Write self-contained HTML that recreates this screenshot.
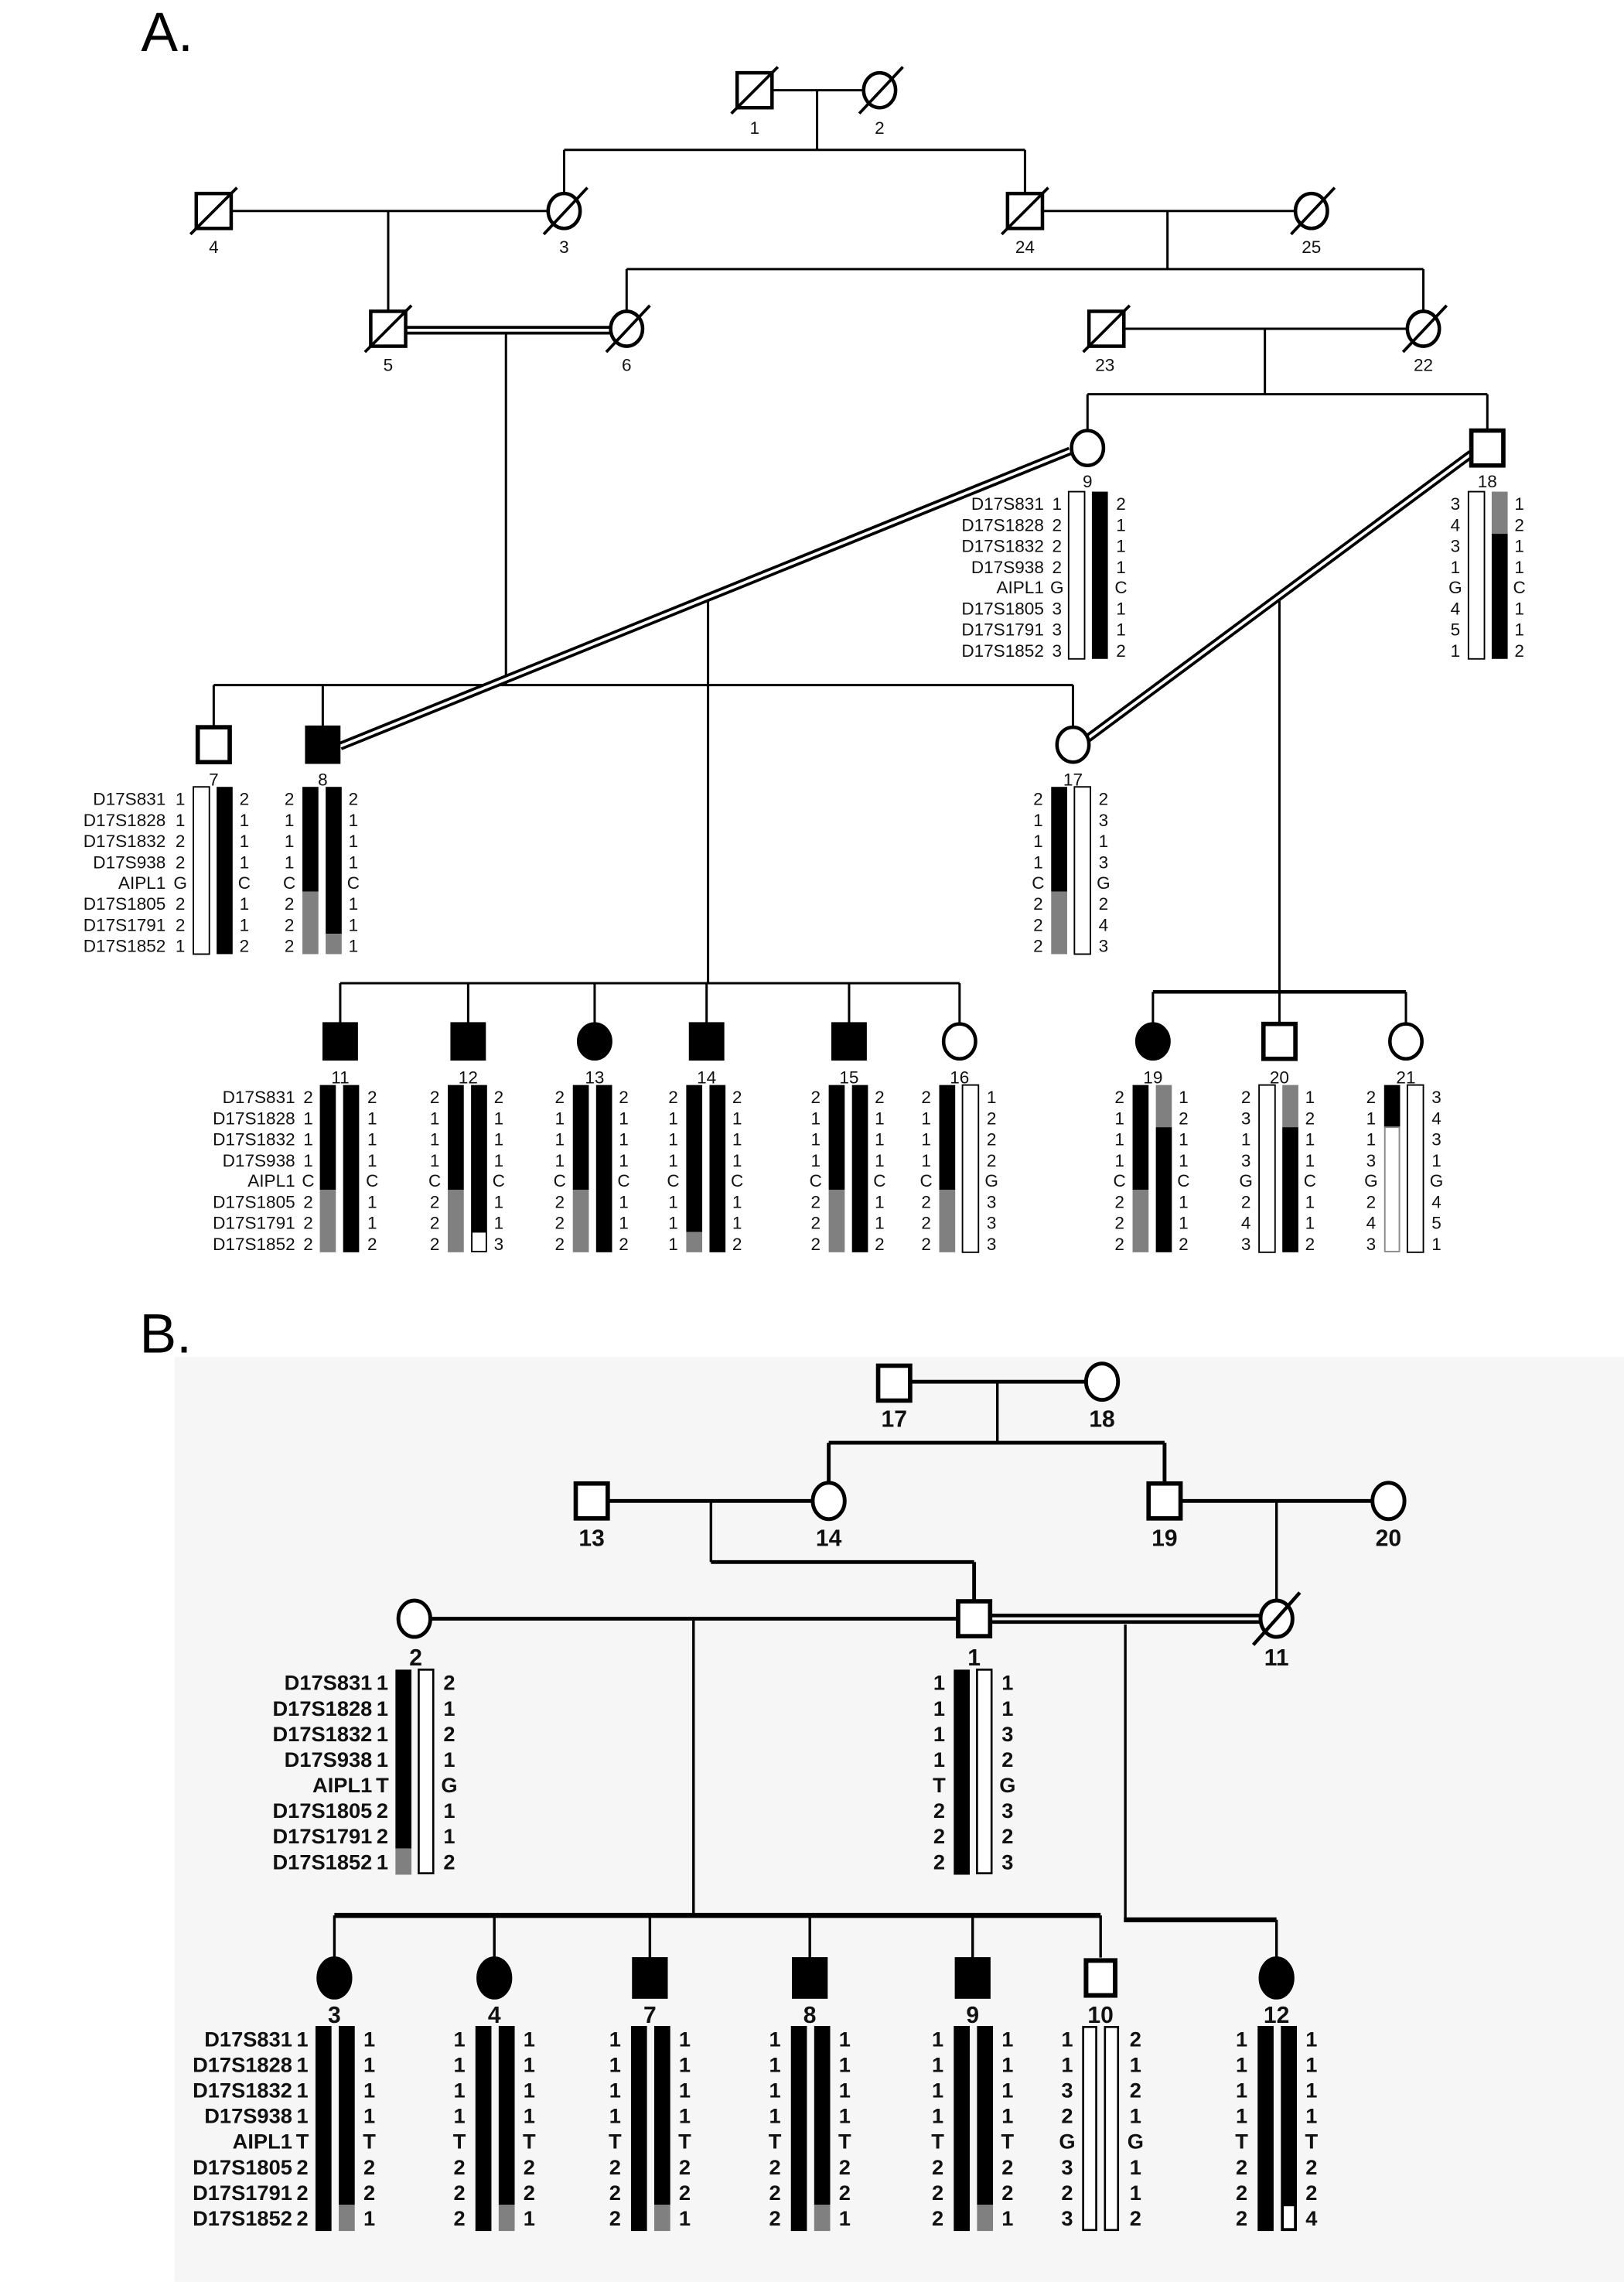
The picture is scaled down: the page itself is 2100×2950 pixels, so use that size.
<!DOCTYPE html>
<html><head><meta charset="utf-8"><style>
html,body{margin:0;padding:0;background:#fff;}
svg{display:block;}
.a text{font-family:"Liberation Sans",sans-serif;font-size:12px;fill:#111;}
.b text{font-family:"Liberation Sans Narrow","Liberation Sans",sans-serif;font-size:14.5px;font-weight:bold;fill:#111;}
.lbA{font-family:"Liberation Sans",sans-serif;font-size:12px;fill:#111;text-anchor:middle;}
.lbB{font-family:"Liberation Sans Narrow","Liberation Sans",sans-serif;font-size:16px;font-weight:bold;fill:#111;text-anchor:middle;}
</style></head><body>
<svg width="2100" height="2950" viewBox="0 0 1117 1569" xmlns="http://www.w3.org/2000/svg">
<rect x="0" y="0" width="1117" height="1569" fill="#fff"/>
<rect x="120" y="933" width="997" height="636" fill="#f6f6f6"/>
<text x="97" y="35" font-family="Liberation Sans,sans-serif" font-size="38" fill="#000">A.</text>
<text x="96" y="930" font-family="Liberation Sans,sans-serif" font-size="38" fill="#000">B.</text>

<!-- ========== PANEL A lines ========== -->
<g stroke="#000" stroke-width="1.6" fill="none">
<line x1="531" y1="62" x2="593" y2="62"/>
<line x1="562" y1="62" x2="562" y2="103"/>
<line x1="388" y1="103" x2="705" y2="103"/>
<line x1="388" y1="103" x2="388" y2="134"/>
<line x1="705" y1="103" x2="705" y2="134"/>
<line x1="159" y1="145" x2="376" y2="145"/>
<line x1="267" y1="145" x2="267" y2="214"/>
<line x1="717" y1="145" x2="890" y2="145"/>
<line x1="803" y1="145" x2="803" y2="185"/>
<line x1="431" y1="185" x2="979" y2="185"/>
<line x1="431" y1="185" x2="431" y2="214"/>
<line x1="979" y1="185" x2="979" y2="214"/>
<line x1="772" y1="226" x2="967" y2="226"/>
<line x1="870" y1="226" x2="870" y2="271"/>
<line x1="748" y1="271" x2="1023" y2="271"/>
<line x1="748" y1="271" x2="748" y2="296"/>
<line x1="1023" y1="271" x2="1023" y2="295"/>
<line x1="348" y1="229" x2="348" y2="471"/>
<line x1="147" y1="471" x2="738" y2="471"/>
<line x1="147" y1="471" x2="147" y2="499"/>
<line x1="222" y1="471" x2="222" y2="499"/>
<line x1="738" y1="471" x2="738" y2="499"/>
<line x1="487" y1="411" x2="487" y2="676"/>
<line x1="234" y1="676" x2="660" y2="676"/>
<line x1="234" y1="676" x2="234" y2="704"/>
<line x1="322" y1="676" x2="322" y2="704"/>
<line x1="409" y1="676" x2="409" y2="704"/>
<line x1="486" y1="676" x2="486" y2="704"/>
<line x1="584" y1="676" x2="584" y2="704"/>
<line x1="660" y1="676" x2="660" y2="704"/>
<line x1="880" y1="409" x2="880" y2="704"/>
<line x1="793" y1="682" x2="967" y2="682" stroke-width="2.4"/>
<line x1="793" y1="682" x2="793" y2="704"/>
<line x1="967" y1="682" x2="967" y2="704"/>
</g>
<!-- double lines A -->
<g fill="none">
<line x1="278" y1="227" x2="421" y2="227" stroke="#000" stroke-width="6"/>
<line x1="278" y1="227" x2="421" y2="227" stroke="#fff" stroke-width="2"/>
<line x1="736" y1="310" x2="234" y2="513" stroke="#000" stroke-width="6"/>
<line x1="736" y1="310" x2="234" y2="513" stroke="#fff" stroke-width="2"/>
<line x1="1012" y1="312" x2="745" y2="510" stroke="#000" stroke-width="6"/>
<line x1="1012" y1="312" x2="745" y2="510" stroke="#fff" stroke-width="2"/>
</g>

<!-- symbols A -->
<g stroke="#000" stroke-width="2.4" fill="#fff">
<rect x="507" y="50" width="24" height="24"/>
<ellipse cx="605" cy="62" rx="11" ry="12"/>
<rect x="135" y="133" width="24" height="24"/>
<ellipse cx="388" cy="145" rx="11" ry="12"/>
<rect x="693" y="133" width="24" height="24"/>
<ellipse cx="902" cy="145" rx="11" ry="12"/>
<rect x="255" y="214" width="24" height="24"/>
<ellipse cx="431" cy="226" rx="11" ry="12"/>
<rect x="749" y="214" width="24" height="24"/>
<ellipse cx="979" cy="226" rx="11" ry="12"/>
<ellipse cx="748" cy="308" rx="11" ry="12"/>
<rect x="1012" y="296" width="22" height="24" stroke-width="3"/>
<rect x="136" y="500" width="22" height="24" stroke-width="3"/>
<rect x="211" y="500" width="22" height="24" fill="#000"/>
<ellipse cx="738" cy="512" rx="11" ry="12"/>
<rect x="223" y="704" width="22" height="24" fill="#000"/>
<rect x="311" y="704" width="22" height="24" fill="#000"/>
<ellipse cx="409" cy="716" rx="11" ry="12" fill="#000"/>
<rect x="475" y="704" width="22" height="24" fill="#000"/>
<rect x="573" y="704" width="22" height="24" fill="#000"/>
<ellipse cx="660" cy="716" rx="11" ry="12"/>
<ellipse cx="793" cy="716" rx="11" ry="12" fill="#000"/>
<rect x="869" y="704" width="22" height="24" stroke-width="3"/>
<ellipse cx="967" cy="716" rx="11" ry="12"/>
</g>
<!-- slashes A -->
<g stroke="#000" stroke-width="2">
<line x1="503" y1="78" x2="535" y2="46"/>
<line x1="591" y1="78" x2="621" y2="46"/>
<line x1="131" y1="161" x2="163" y2="129"/>
<line x1="374" y1="161" x2="404" y2="129"/>
<line x1="689" y1="161" x2="721" y2="129"/>
<line x1="888" y1="161" x2="918" y2="129"/>
<line x1="251" y1="242" x2="283" y2="210"/>
<line x1="417" y1="242" x2="447" y2="210"/>
<line x1="745" y1="242" x2="777" y2="210"/>
<line x1="965" y1="242" x2="995" y2="210"/>
</g>
<!-- labels A -->
<g class="lbA">
<text x="519" y="92" class="lbA">1</text>
<text x="605" y="92" class="lbA">2</text>
<text x="147" y="174" class="lbA">4</text>
<text x="388" y="174" class="lbA">3</text>
<text x="705" y="174" class="lbA">24</text>
<text x="902" y="174" class="lbA">25</text>
<text x="267" y="255" class="lbA">5</text>
<text x="431" y="255" class="lbA">6</text>
<text x="760" y="255" class="lbA">23</text>
<text x="979" y="255" class="lbA">22</text>
<text x="748" y="335" class="lbA">9</text>
<text x="1023" y="335" class="lbA">18</text>
<text x="147" y="540" class="lbA">7</text>
<text x="222" y="540" class="lbA">8</text>
<text x="738" y="540" class="lbA">17</text>
<text x="234" y="745" class="lbA">11</text>
<text x="322" y="745" class="lbA">12</text>
<text x="409" y="745" class="lbA">13</text>
<text x="486" y="745" class="lbA">14</text>
<text x="584" y="745" class="lbA">15</text>
<text x="660" y="745" class="lbA">16</text>
<text x="793" y="745" class="lbA">19</text>
<text x="880" y="745" class="lbA">20</text>
<text x="967" y="745" class="lbA">21</text>
</g>

<!-- haplotypes A -->
<g class="a">
<!-- 9 -->
<g transform="translate(749,338)">
<rect x="-14" y="0" width="11" height="115" fill="#fff" stroke="#000"/>
<rect x="2" y="0" width="11" height="115" fill="#000"/>
<text text-anchor="end"><tspan x="-31" y="12.5">D17S831</tspan><tspan x="-31" y="27">D17S1828</tspan><tspan x="-31" y="41.5">D17S1832</tspan><tspan x="-31" y="56">D17S938</tspan><tspan x="-31" y="70">AIPL1</tspan><tspan x="-31" y="84.5">D17S1805</tspan><tspan x="-31" y="99">D17S1791</tspan><tspan x="-31" y="113.5">D17S1852</tspan></text>
<text text-anchor="middle"><tspan x="-22" y="12.5">1</tspan><tspan x="-22" y="27">2</tspan><tspan x="-22" y="41.5">2</tspan><tspan x="-22" y="56">2</tspan><tspan x="-22" y="70">G</tspan><tspan x="-22" y="84.5">3</tspan><tspan x="-22" y="99">3</tspan><tspan x="-22" y="113.5">3</tspan></text>
<text text-anchor="middle"><tspan x="22" y="12.5">2</tspan><tspan x="22" y="27">1</tspan><tspan x="22" y="41.5">1</tspan><tspan x="22" y="56">1</tspan><tspan x="22" y="70">C</tspan><tspan x="22" y="84.5">1</tspan><tspan x="22" y="99">1</tspan><tspan x="22" y="113.5">2</tspan></text>
</g>
<!-- 18 -->
<g transform="translate(1024,338)">
<rect x="-14" y="0" width="11" height="115" fill="#fff" stroke="#000"/>
<rect x="2" y="0" width="11" height="29" fill="#808080"/>
<rect x="2" y="29" width="11" height="86" fill="#000"/>
<text text-anchor="middle"><tspan x="-23" y="12.5">3</tspan><tspan x="-23" y="27">4</tspan><tspan x="-23" y="41.5">3</tspan><tspan x="-23" y="56">1</tspan><tspan x="-23" y="70">G</tspan><tspan x="-23" y="84.5">4</tspan><tspan x="-23" y="99">5</tspan><tspan x="-23" y="113.5">1</tspan></text>
<text text-anchor="middle"><tspan x="21" y="12.5">1</tspan><tspan x="21" y="27">2</tspan><tspan x="21" y="41.5">1</tspan><tspan x="21" y="56">1</tspan><tspan x="21" y="70">C</tspan><tspan x="21" y="84.5">1</tspan><tspan x="21" y="99">1</tspan><tspan x="21" y="113.5">2</tspan></text>
</g>
<!-- 7 -->
<g transform="translate(147,541)">
<rect x="-14" y="0" width="11" height="115" fill="#fff" stroke="#000"/>
<rect x="2" y="0" width="11" height="115" fill="#000"/>
<text text-anchor="end"><tspan x="-33" y="12.5">D17S831</tspan><tspan x="-33" y="27">D17S1828</tspan><tspan x="-33" y="41.5">D17S1832</tspan><tspan x="-33" y="56">D17S938</tspan><tspan x="-33" y="70">AIPL1</tspan><tspan x="-33" y="84.5">D17S1805</tspan><tspan x="-33" y="99">D17S1791</tspan><tspan x="-33" y="113.5">D17S1852</tspan></text>
<text text-anchor="middle"><tspan x="-23" y="12.5">1</tspan><tspan x="-23" y="27">1</tspan><tspan x="-23" y="41.5">2</tspan><tspan x="-23" y="56">2</tspan><tspan x="-23" y="70">G</tspan><tspan x="-23" y="84.5">2</tspan><tspan x="-23" y="99">2</tspan><tspan x="-23" y="113.5">1</tspan></text>
<text text-anchor="middle"><tspan x="21" y="12.5">2</tspan><tspan x="21" y="27">1</tspan><tspan x="21" y="41.5">1</tspan><tspan x="21" y="56">1</tspan><tspan x="21" y="70">C</tspan><tspan x="21" y="84.5">1</tspan><tspan x="21" y="99">1</tspan><tspan x="21" y="113.5">2</tspan></text>
</g>
<!-- 8 -->
<g transform="translate(222,541)">
<rect x="-14" y="0" width="11" height="72" fill="#000"/>
<rect x="-14" y="72" width="11" height="43" fill="#808080"/>
<rect x="2" y="0" width="11" height="101" fill="#000"/>
<rect x="2" y="101" width="11" height="14" fill="#808080"/>
<text text-anchor="middle"><tspan x="-23" y="12.5">2</tspan><tspan x="-23" y="27">1</tspan><tspan x="-23" y="41.5">1</tspan><tspan x="-23" y="56">1</tspan><tspan x="-23" y="70">C</tspan><tspan x="-23" y="84.5">2</tspan><tspan x="-23" y="99">2</tspan><tspan x="-23" y="113.5">2</tspan></text>
<text text-anchor="middle"><tspan x="21" y="12.5">2</tspan><tspan x="21" y="27">1</tspan><tspan x="21" y="41.5">1</tspan><tspan x="21" y="56">1</tspan><tspan x="21" y="70">C</tspan><tspan x="21" y="84.5">1</tspan><tspan x="21" y="99">1</tspan><tspan x="21" y="113.5">1</tspan></text>
</g>
<!-- 17 -->
<g transform="translate(737,541)">
<rect x="-14" y="0" width="11" height="72" fill="#000"/>
<rect x="-14" y="72" width="11" height="43" fill="#808080"/>
<rect x="2" y="0" width="11" height="115" fill="#fff" stroke="#000"/>
<text text-anchor="middle"><tspan x="-23" y="12.5">2</tspan><tspan x="-23" y="27">1</tspan><tspan x="-23" y="41.5">1</tspan><tspan x="-23" y="56">1</tspan><tspan x="-23" y="70">C</tspan><tspan x="-23" y="84.5">2</tspan><tspan x="-23" y="99">2</tspan><tspan x="-23" y="113.5">2</tspan></text>
<text text-anchor="middle"><tspan x="22" y="12.5">2</tspan><tspan x="22" y="27">3</tspan><tspan x="22" y="41.5">1</tspan><tspan x="22" y="56">3</tspan><tspan x="22" y="70">G</tspan><tspan x="22" y="84.5">2</tspan><tspan x="22" y="99">4</tspan><tspan x="22" y="113.5">3</tspan></text>
</g>
<!-- 11 -->
<g transform="translate(234,746)">
<rect x="-14" y="0" width="11" height="72" fill="#000"/>
<rect x="-14" y="72" width="11" height="43" fill="#808080"/>
<rect x="2" y="0" width="11" height="115" fill="#000"/>
<text text-anchor="end"><tspan x="-31" y="12.5">D17S831</tspan><tspan x="-31" y="27">D17S1828</tspan><tspan x="-31" y="41.5">D17S1832</tspan><tspan x="-31" y="56">D17S938</tspan><tspan x="-31" y="70">AIPL1</tspan><tspan x="-31" y="84.5">D17S1805</tspan><tspan x="-31" y="99">D17S1791</tspan><tspan x="-31" y="113.5">D17S1852</tspan></text>
<text text-anchor="middle"><tspan x="-22" y="12.5">2</tspan><tspan x="-22" y="27">1</tspan><tspan x="-22" y="41.5">1</tspan><tspan x="-22" y="56">1</tspan><tspan x="-22" y="70">C</tspan><tspan x="-22" y="84.5">2</tspan><tspan x="-22" y="99">2</tspan><tspan x="-22" y="113.5">2</tspan></text>
<text text-anchor="middle"><tspan x="22" y="12.5">2</tspan><tspan x="22" y="27">1</tspan><tspan x="22" y="41.5">1</tspan><tspan x="22" y="56">1</tspan><tspan x="22" y="70">C</tspan><tspan x="22" y="84.5">1</tspan><tspan x="22" y="99">1</tspan><tspan x="22" y="113.5">2</tspan></text>
</g>
<!-- 12 -->
<g transform="translate(322,746)">
<rect x="-14" y="0" width="11" height="72" fill="#000"/>
<rect x="-14" y="72" width="11" height="43" fill="#808080"/>
<rect x="2" y="0" width="11" height="101" fill="#000"/>
<rect x="2.5" y="101" width="10" height="13.5" fill="#fff" stroke="#000"/>
<text text-anchor="middle"><tspan x="-23" y="12.5">2</tspan><tspan x="-23" y="27">1</tspan><tspan x="-23" y="41.5">1</tspan><tspan x="-23" y="56">1</tspan><tspan x="-23" y="70">C</tspan><tspan x="-23" y="84.5">2</tspan><tspan x="-23" y="99">2</tspan><tspan x="-23" y="113.5">2</tspan></text>
<text text-anchor="middle"><tspan x="21" y="12.5">2</tspan><tspan x="21" y="27">1</tspan><tspan x="21" y="41.5">1</tspan><tspan x="21" y="56">1</tspan><tspan x="21" y="70">C</tspan><tspan x="21" y="84.5">1</tspan><tspan x="21" y="99">1</tspan><tspan x="21" y="113.5">3</tspan></text>
</g>
<!-- 13 -->
<g transform="translate(408,746)">
<rect x="-14" y="0" width="11" height="72" fill="#000"/>
<rect x="-14" y="72" width="11" height="43" fill="#808080"/>
<rect x="2" y="0" width="11" height="115" fill="#000"/>
<text text-anchor="middle"><tspan x="-23" y="12.5">2</tspan><tspan x="-23" y="27">1</tspan><tspan x="-23" y="41.5">1</tspan><tspan x="-23" y="56">1</tspan><tspan x="-23" y="70">C</tspan><tspan x="-23" y="84.5">2</tspan><tspan x="-23" y="99">2</tspan><tspan x="-23" y="113.5">2</tspan></text>
<text text-anchor="middle"><tspan x="21" y="12.5">2</tspan><tspan x="21" y="27">1</tspan><tspan x="21" y="41.5">1</tspan><tspan x="21" y="56">1</tspan><tspan x="21" y="70">C</tspan><tspan x="21" y="84.5">1</tspan><tspan x="21" y="99">1</tspan><tspan x="21" y="113.5">2</tspan></text>
</g>
<!-- 14 -->
<g transform="translate(486,746)">
<rect x="-14" y="0" width="11" height="101" fill="#000"/>
<rect x="-14" y="101" width="11" height="14" fill="#808080"/>
<rect x="2" y="0" width="11" height="115" fill="#000"/>
<text text-anchor="middle"><tspan x="-23" y="12.5">2</tspan><tspan x="-23" y="27">1</tspan><tspan x="-23" y="41.5">1</tspan><tspan x="-23" y="56">1</tspan><tspan x="-23" y="70">C</tspan><tspan x="-23" y="84.5">1</tspan><tspan x="-23" y="99">1</tspan><tspan x="-23" y="113.5">1</tspan></text>
<text text-anchor="middle"><tspan x="21" y="12.5">2</tspan><tspan x="21" y="27">1</tspan><tspan x="21" y="41.5">1</tspan><tspan x="21" y="56">1</tspan><tspan x="21" y="70">C</tspan><tspan x="21" y="84.5">1</tspan><tspan x="21" y="99">1</tspan><tspan x="21" y="113.5">2</tspan></text>
</g>
<!-- 15 -->
<g transform="translate(584,746)">
<rect x="-14" y="0" width="11" height="72" fill="#000"/>
<rect x="-14" y="72" width="11" height="43" fill="#808080"/>
<rect x="2" y="0" width="11" height="115" fill="#000"/>
<text text-anchor="middle"><tspan x="-23" y="12.5">2</tspan><tspan x="-23" y="27">1</tspan><tspan x="-23" y="41.5">1</tspan><tspan x="-23" y="56">1</tspan><tspan x="-23" y="70">C</tspan><tspan x="-23" y="84.5">2</tspan><tspan x="-23" y="99">2</tspan><tspan x="-23" y="113.5">2</tspan></text>
<text text-anchor="middle"><tspan x="21" y="12.5">2</tspan><tspan x="21" y="27">1</tspan><tspan x="21" y="41.5">1</tspan><tspan x="21" y="56">1</tspan><tspan x="21" y="70">C</tspan><tspan x="21" y="84.5">1</tspan><tspan x="21" y="99">1</tspan><tspan x="21" y="113.5">2</tspan></text>
</g>
<!-- 16 -->
<g transform="translate(660,746)">
<rect x="-14" y="0" width="11" height="72" fill="#000"/>
<rect x="-14" y="72" width="11" height="43" fill="#808080"/>
<rect x="2" y="0" width="11" height="115" fill="#fff" stroke="#000"/>
<text text-anchor="middle"><tspan x="-23" y="12.5">2</tspan><tspan x="-23" y="27">1</tspan><tspan x="-23" y="41.5">1</tspan><tspan x="-23" y="56">1</tspan><tspan x="-23" y="70">C</tspan><tspan x="-23" y="84.5">2</tspan><tspan x="-23" y="99">2</tspan><tspan x="-23" y="113.5">2</tspan></text>
<text text-anchor="middle"><tspan x="22" y="12.5">1</tspan><tspan x="22" y="27">2</tspan><tspan x="22" y="41.5">2</tspan><tspan x="22" y="56">2</tspan><tspan x="22" y="70">G</tspan><tspan x="22" y="84.5">3</tspan><tspan x="22" y="99">3</tspan><tspan x="22" y="113.5">3</tspan></text>
</g>
<!-- 19 -->
<g transform="translate(793,746)">
<rect x="-14" y="0" width="11" height="72" fill="#000"/>
<rect x="-14" y="72" width="11" height="43" fill="#808080"/>
<rect x="2" y="0" width="11" height="29" fill="#808080"/>
<rect x="2" y="29" width="11" height="86" fill="#000"/>
<text text-anchor="middle"><tspan x="-23" y="12.5">2</tspan><tspan x="-23" y="27">1</tspan><tspan x="-23" y="41.5">1</tspan><tspan x="-23" y="56">1</tspan><tspan x="-23" y="70">C</tspan><tspan x="-23" y="84.5">2</tspan><tspan x="-23" y="99">2</tspan><tspan x="-23" y="113.5">2</tspan></text>
<text text-anchor="middle"><tspan x="21" y="12.5">1</tspan><tspan x="21" y="27">2</tspan><tspan x="21" y="41.5">1</tspan><tspan x="21" y="56">1</tspan><tspan x="21" y="70">C</tspan><tspan x="21" y="84.5">1</tspan><tspan x="21" y="99">1</tspan><tspan x="21" y="113.5">2</tspan></text>
</g>
<!-- 20 -->
<g transform="translate(880,746)">
<rect x="-14" y="0" width="11" height="115" fill="#fff" stroke="#000"/>
<rect x="2" y="0" width="11" height="29" fill="#808080"/>
<rect x="2" y="29" width="11" height="86" fill="#000"/>
<text text-anchor="middle"><tspan x="-23" y="12.5">2</tspan><tspan x="-23" y="27">3</tspan><tspan x="-23" y="41.5">1</tspan><tspan x="-23" y="56">3</tspan><tspan x="-23" y="70">G</tspan><tspan x="-23" y="84.5">2</tspan><tspan x="-23" y="99">4</tspan><tspan x="-23" y="113.5">3</tspan></text>
<text text-anchor="middle"><tspan x="21" y="12.5">1</tspan><tspan x="21" y="27">2</tspan><tspan x="21" y="41.5">1</tspan><tspan x="21" y="56">1</tspan><tspan x="21" y="70">C</tspan><tspan x="21" y="84.5">1</tspan><tspan x="21" y="99">1</tspan><tspan x="21" y="113.5">2</tspan></text>
</g>
<!-- 21 -->
<g transform="translate(966,746)">
<rect x="-14" y="0" width="11" height="29" fill="#000"/>
<rect x="-13.5" y="29" width="10" height="85.5" fill="#fff" stroke="#888"/>
<rect x="2" y="0" width="11" height="115" fill="#fff" stroke="#000"/>
<text text-anchor="middle"><tspan x="-23" y="12.5">2</tspan><tspan x="-23" y="27">1</tspan><tspan x="-23" y="41.5">1</tspan><tspan x="-23" y="56">3</tspan><tspan x="-23" y="70">G</tspan><tspan x="-23" y="84.5">2</tspan><tspan x="-23" y="99">4</tspan><tspan x="-23" y="113.5">3</tspan></text>
<text text-anchor="middle"><tspan x="22" y="12.5">3</tspan><tspan x="22" y="27">4</tspan><tspan x="22" y="41.5">3</tspan><tspan x="22" y="56">1</tspan><tspan x="22" y="70">G</tspan><tspan x="22" y="84.5">4</tspan><tspan x="22" y="99">5</tspan><tspan x="22" y="113.5">1</tspan></text>
</g>
</g>

<!-- ========== PANEL B ========== -->
<g stroke="#000" stroke-width="2.6" fill="none">
<line x1="627" y1="950" x2="746" y2="950"/>
<line x1="686" y1="950" x2="686" y2="992" stroke-width="1.8"/>
<line x1="570" y1="992" x2="801" y2="992"/>
<line x1="570" y1="992" x2="570" y2="1019"/>
<line x1="801" y1="992" x2="801" y2="1021"/>
<line x1="419" y1="1032" x2="558" y2="1032"/>
<line x1="489" y1="1032" x2="489" y2="1074" stroke-width="1.8"/>
<line x1="489" y1="1074" x2="670" y2="1074"/>
<line x1="670" y1="1074" x2="670" y2="1101"/>
<line x1="812" y1="1032" x2="943" y2="1032"/>
<line x1="878" y1="1032" x2="878" y2="1100" stroke-width="1.8"/>
<line x1="297" y1="1113" x2="659" y2="1113"/>
<line x1="477" y1="1113" x2="477" y2="1317" stroke-width="1.8"/>
<line x1="774" y1="1117" x2="774" y2="1320" stroke-width="1.8"/>
<line x1="230" y1="1317" x2="757" y2="1317" stroke-width="3.4"/>
<line x1="773" y1="1320" x2="878" y2="1320" stroke-width="3.4"/>
<line x1="230" y1="1317" x2="230" y2="1346" stroke-width="1.8"/>
<line x1="340" y1="1317" x2="340" y2="1346" stroke-width="1.8"/>
<line x1="447" y1="1317" x2="447" y2="1346" stroke-width="1.8"/>
<line x1="557" y1="1317" x2="557" y2="1346" stroke-width="1.8"/>
<line x1="669" y1="1317" x2="669" y2="1346" stroke-width="1.8"/>
<line x1="757" y1="1317" x2="757" y2="1346" stroke-width="1.8"/>
<line x1="878" y1="1320" x2="878" y2="1346" stroke-width="1.8"/>
</g>
<line x1="680" y1="1113" x2="866" y2="1113" stroke="#000" stroke-width="7"/>
<line x1="680" y1="1113" x2="866" y2="1113" stroke="#f6f6f6" stroke-width="2"/>
<g stroke="#000" stroke-width="2.6" fill="#fff">
<rect x="604" y="939" width="22" height="24" stroke-width="3"/>
<ellipse cx="758" cy="950" rx="11" ry="12.5"/>
<rect x="396" y="1020" width="22" height="24" stroke-width="3"/>
<ellipse cx="570" cy="1032" rx="11" ry="12.5"/>
<rect x="790" y="1020" width="22" height="24" stroke-width="3"/>
<ellipse cx="955" cy="1032" rx="11" ry="12.5"/>
<ellipse cx="285" cy="1113" rx="11" ry="12.5"/>
<rect x="659" y="1101" width="22" height="24" stroke-width="3"/>
<ellipse cx="878" cy="1113" rx="11" ry="12.5"/>
<ellipse cx="230" cy="1360" rx="11" ry="13.5" fill="#000"/>
<ellipse cx="340" cy="1360" rx="11" ry="13.5" fill="#000"/>
<rect x="436" y="1347" width="22" height="26" fill="#000"/>
<rect x="546" y="1347" width="22" height="26" fill="#000"/>
<rect x="658" y="1347" width="22" height="26" fill="#000"/>
<rect x="747" y="1348" width="20" height="24" stroke-width="3.2"/>
<ellipse cx="878" cy="1360" rx="11" ry="13.5" fill="#000"/>
</g>
<line x1="862" y1="1131" x2="894" y2="1095" stroke="#000" stroke-width="2.4"/>
<g>
<text x="615" y="981" class="lbB">17</text>
<text x="758" y="981" class="lbB">18</text>
<text x="407" y="1063" class="lbB">13</text>
<text x="570" y="1063" class="lbB">14</text>
<text x="801" y="1063" class="lbB">19</text>
<text x="955" y="1063" class="lbB">20</text>
<text x="286" y="1145" class="lbB">2</text>
<text x="670" y="1145" class="lbB">1</text>
<text x="878" y="1145" class="lbB">11</text>
<text x="230" y="1391" class="lbB">3</text>
<text x="340" y="1391" class="lbB">4</text>
<text x="447" y="1391" class="lbB">7</text>
<text x="557" y="1391" class="lbB">8</text>
<text x="669" y="1391" class="lbB">9</text>
<text x="757" y="1391" class="lbB">10</text>
<text x="878" y="1391" class="lbB">12</text>
</g>

<g class="b">
<!-- B2 -->
<g transform="translate(285,1148)">
<rect x="-13" y="0" width="11" height="123" fill="#000"/>
<rect x="-13" y="123" width="11" height="18" fill="#808080"/>
<rect x="3" y="0" width="10" height="140" fill="#fff" stroke="#000" stroke-width="1.4"/>
<text text-anchor="end"><tspan x="-29" y="14">D17S831</tspan><tspan x="-29" y="31.6">D17S1828</tspan><tspan x="-29" y="49.2">D17S1832</tspan><tspan x="-29" y="66.8">D17S938</tspan><tspan x="-29" y="84.4">AIPL1</tspan><tspan x="-29" y="102">D17S1805</tspan><tspan x="-29" y="119.6">D17S1791</tspan><tspan x="-29" y="137.2">D17S1852</tspan></text>
<text text-anchor="middle"><tspan x="-22" y="14">1</tspan><tspan x="-22" y="31.6">1</tspan><tspan x="-22" y="49.2">1</tspan><tspan x="-22" y="66.8">1</tspan><tspan x="-22" y="84.4">T</tspan><tspan x="-22" y="102">2</tspan><tspan x="-22" y="119.6">2</tspan><tspan x="-22" y="137.2">1</tspan></text>
<text text-anchor="middle"><tspan x="24" y="14">2</tspan><tspan x="24" y="31.6">1</tspan><tspan x="24" y="49.2">2</tspan><tspan x="24" y="66.8">1</tspan><tspan x="24" y="84.4">G</tspan><tspan x="24" y="102">1</tspan><tspan x="24" y="119.6">1</tspan><tspan x="24" y="137.2">2</tspan></text>
</g>
<!-- B1 -->
<g transform="translate(669,1148)">
<rect x="-13" y="0" width="11" height="141" fill="#000"/>
<rect x="3" y="0" width="10" height="140" fill="#fff" stroke="#000" stroke-width="1.4"/>
<text text-anchor="middle"><tspan x="-23" y="14">1</tspan><tspan x="-23" y="31.6">1</tspan><tspan x="-23" y="49.2">1</tspan><tspan x="-23" y="66.8">1</tspan><tspan x="-23" y="84.4">T</tspan><tspan x="-23" y="102">2</tspan><tspan x="-23" y="119.6">2</tspan><tspan x="-23" y="137.2">2</tspan></text>
<text text-anchor="middle"><tspan x="24" y="14">1</tspan><tspan x="24" y="31.6">1</tspan><tspan x="24" y="49.2">3</tspan><tspan x="24" y="66.8">2</tspan><tspan x="24" y="84.4">G</tspan><tspan x="24" y="102">3</tspan><tspan x="24" y="119.6">2</tspan><tspan x="24" y="137.2">3</tspan></text>
</g>
<!-- B3 -->
<g transform="translate(230,1393)">
<rect x="-13" y="0" width="11" height="141" fill="#000"/>
<rect x="3" y="0" width="11" height="123" fill="#000"/>
<rect x="3" y="123" width="11" height="18" fill="#808080"/>
<text text-anchor="end"><tspan x="-29" y="14">D17S831</tspan><tspan x="-29" y="31.6">D17S1828</tspan><tspan x="-29" y="49.2">D17S1832</tspan><tspan x="-29" y="66.8">D17S938</tspan><tspan x="-29" y="84.4">AIPL1</tspan><tspan x="-29" y="102">D17S1805</tspan><tspan x="-29" y="119.6">D17S1791</tspan><tspan x="-29" y="137.2">D17S1852</tspan></text>
<text text-anchor="middle"><tspan x="-22" y="14">1</tspan><tspan x="-22" y="31.6">1</tspan><tspan x="-22" y="49.2">1</tspan><tspan x="-22" y="66.8">1</tspan><tspan x="-22" y="84.4">T</tspan><tspan x="-22" y="102">2</tspan><tspan x="-22" y="119.6">2</tspan><tspan x="-22" y="137.2">2</tspan></text>
<text text-anchor="middle"><tspan x="24" y="14">1</tspan><tspan x="24" y="31.6">1</tspan><tspan x="24" y="49.2">1</tspan><tspan x="24" y="66.8">1</tspan><tspan x="24" y="84.4">T</tspan><tspan x="24" y="102">2</tspan><tspan x="24" y="119.6">2</tspan><tspan x="24" y="137.2">1</tspan></text>
</g>
<!-- B4 -->
<g transform="translate(340,1393)">
<rect x="-13" y="0" width="11" height="141" fill="#000"/>
<rect x="3" y="0" width="11" height="123" fill="#000"/>
<rect x="3" y="123" width="11" height="18" fill="#808080"/>
<text text-anchor="middle"><tspan x="-24" y="14">1</tspan><tspan x="-24" y="31.6">1</tspan><tspan x="-24" y="49.2">1</tspan><tspan x="-24" y="66.8">1</tspan><tspan x="-24" y="84.4">T</tspan><tspan x="-24" y="102">2</tspan><tspan x="-24" y="119.6">2</tspan><tspan x="-24" y="137.2">2</tspan></text>
<text text-anchor="middle"><tspan x="24" y="14">1</tspan><tspan x="24" y="31.6">1</tspan><tspan x="24" y="49.2">1</tspan><tspan x="24" y="66.8">1</tspan><tspan x="24" y="84.4">T</tspan><tspan x="24" y="102">2</tspan><tspan x="24" y="119.6">2</tspan><tspan x="24" y="137.2">1</tspan></text>
</g>
<!-- B7 -->
<g transform="translate(447,1393)">
<rect x="-13" y="0" width="11" height="141" fill="#000"/>
<rect x="3" y="0" width="11" height="123" fill="#000"/>
<rect x="3" y="123" width="11" height="18" fill="#808080"/>
<text text-anchor="middle"><tspan x="-24" y="14">1</tspan><tspan x="-24" y="31.6">1</tspan><tspan x="-24" y="49.2">1</tspan><tspan x="-24" y="66.8">1</tspan><tspan x="-24" y="84.4">T</tspan><tspan x="-24" y="102">2</tspan><tspan x="-24" y="119.6">2</tspan><tspan x="-24" y="137.2">2</tspan></text>
<text text-anchor="middle"><tspan x="24" y="14">1</tspan><tspan x="24" y="31.6">1</tspan><tspan x="24" y="49.2">1</tspan><tspan x="24" y="66.8">1</tspan><tspan x="24" y="84.4">T</tspan><tspan x="24" y="102">2</tspan><tspan x="24" y="119.6">2</tspan><tspan x="24" y="137.2">1</tspan></text>
</g>
<!-- B8 -->
<g transform="translate(557,1393)">
<rect x="-13" y="0" width="11" height="141" fill="#000"/>
<rect x="3" y="0" width="11" height="123" fill="#000"/>
<rect x="3" y="123" width="11" height="18" fill="#808080"/>
<text text-anchor="middle"><tspan x="-24" y="14">1</tspan><tspan x="-24" y="31.6">1</tspan><tspan x="-24" y="49.2">1</tspan><tspan x="-24" y="66.8">1</tspan><tspan x="-24" y="84.4">T</tspan><tspan x="-24" y="102">2</tspan><tspan x="-24" y="119.6">2</tspan><tspan x="-24" y="137.2">2</tspan></text>
<text text-anchor="middle"><tspan x="24" y="14">1</tspan><tspan x="24" y="31.6">1</tspan><tspan x="24" y="49.2">1</tspan><tspan x="24" y="66.8">1</tspan><tspan x="24" y="84.4">T</tspan><tspan x="24" y="102">2</tspan><tspan x="24" y="119.6">2</tspan><tspan x="24" y="137.2">1</tspan></text>
</g>
<!-- B9 -->
<g transform="translate(669,1393)">
<rect x="-13" y="0" width="11" height="141" fill="#000"/>
<rect x="3" y="0" width="11" height="123" fill="#000"/>
<rect x="3" y="123" width="11" height="18" fill="#808080"/>
<text text-anchor="middle"><tspan x="-24" y="14">1</tspan><tspan x="-24" y="31.6">1</tspan><tspan x="-24" y="49.2">1</tspan><tspan x="-24" y="66.8">1</tspan><tspan x="-24" y="84.4">T</tspan><tspan x="-24" y="102">2</tspan><tspan x="-24" y="119.6">2</tspan><tspan x="-24" y="137.2">2</tspan></text>
<text text-anchor="middle"><tspan x="24" y="14">1</tspan><tspan x="24" y="31.6">1</tspan><tspan x="24" y="49.2">1</tspan><tspan x="24" y="66.8">1</tspan><tspan x="24" y="84.4">T</tspan><tspan x="24" y="102">2</tspan><tspan x="24" y="119.6">2</tspan><tspan x="24" y="137.2">1</tspan></text>
</g>
<!-- B10 -->
<g transform="translate(757,1393)">
<rect x="-12" y="0.7" width="9" height="139.6" fill="#fff" stroke="#000" stroke-width="1.4"/>
<rect x="3" y="0.7" width="9" height="139.6" fill="#fff" stroke="#000" stroke-width="1.4"/>
<text text-anchor="middle"><tspan x="-23" y="14">1</tspan><tspan x="-23" y="31.6">1</tspan><tspan x="-23" y="49.2">3</tspan><tspan x="-23" y="66.8">2</tspan><tspan x="-23" y="84.4">G</tspan><tspan x="-23" y="102">3</tspan><tspan x="-23" y="119.6">2</tspan><tspan x="-23" y="137.2">3</tspan></text>
<text text-anchor="middle"><tspan x="24" y="14">2</tspan><tspan x="24" y="31.6">1</tspan><tspan x="24" y="49.2">2</tspan><tspan x="24" y="66.8">1</tspan><tspan x="24" y="84.4">G</tspan><tspan x="24" y="102">1</tspan><tspan x="24" y="119.6">1</tspan><tspan x="24" y="137.2">2</tspan></text>
</g>
<!-- B12 -->
<g transform="translate(878,1393)">
<rect x="-13" y="0" width="11" height="141" fill="#000"/>
<rect x="3" y="0" width="11" height="141" fill="#000"/>
<rect x="5" y="124" width="7" height="15" fill="#fff"/>
<text text-anchor="middle"><tspan x="-24" y="14">1</tspan><tspan x="-24" y="31.6">1</tspan><tspan x="-24" y="49.2">1</tspan><tspan x="-24" y="66.8">1</tspan><tspan x="-24" y="84.4">T</tspan><tspan x="-24" y="102">2</tspan><tspan x="-24" y="119.6">2</tspan><tspan x="-24" y="137.2">2</tspan></text>
<text text-anchor="middle"><tspan x="24" y="14">1</tspan><tspan x="24" y="31.6">1</tspan><tspan x="24" y="49.2">1</tspan><tspan x="24" y="66.8">1</tspan><tspan x="24" y="84.4">T</tspan><tspan x="24" y="102">2</tspan><tspan x="24" y="119.6">2</tspan><tspan x="24" y="137.2">4</tspan></text>
</g>
</g>
</svg>
</body></html>
